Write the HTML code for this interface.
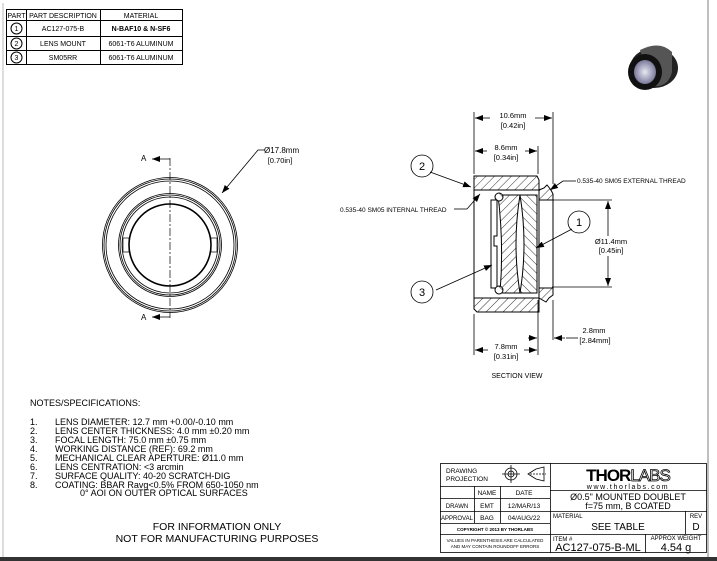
<!DOCTYPE html>
<html><head><meta charset="utf-8"><style>
html,body{margin:0;padding:0;background:#fff;}
svg{display:block;font-family:"Liberation Sans",sans-serif;}
</style></head><body>
<svg width="717" height="561" viewBox="0 0 717 561" xmlns="http://www.w3.org/2000/svg">
<defs>
<pattern id="h" width="6" height="6" patternUnits="userSpaceOnUse" patternTransform="rotate(45)">
<rect width="6" height="6" fill="#fff"/><line x1="0" y1="0" x2="0" y2="6" stroke="#000" stroke-width="0.8"/></pattern>
<pattern id="h2" width="6" height="6" patternUnits="userSpaceOnUse" patternTransform="rotate(-45)">
<rect width="6" height="6" fill="#fff"/><line x1="0" y1="0" x2="0" y2="6" stroke="#000" stroke-width="0.8"/></pattern>
<marker id="ar" markerWidth="8" markerHeight="6" refX="8" refY="3" orient="auto" markerUnits="userSpaceOnUse"><path d="M0,0 L8,3 L0,6z" fill="#000"/></marker>
<radialGradient id="lg" cx="0.5" cy="0.5" r="0.5"><stop offset="0" stop-color="#e8e8f4"/><stop offset="1" stop-color="#7a7a9a"/></radialGradient>
</defs>
<rect width="717" height="561" fill="#fff"/>
<line x1="3" y1="3" x2="3" y2="557" stroke="#bbb"/>
<line x1="708" y1="0" x2="708" y2="557" stroke="#aaa" stroke-width="1.5"/>
<rect x="0" y="557" width="717" height="4" fill="#333"/>

<!-- parts table -->
<g stroke="#000" stroke-width="1" fill="none">
<rect x="6.5" y="9.5" width="176" height="55"/>
<line x1="6" y1="20.5" x2="183" y2="20.5"/>
<line x1="6" y1="36.5" x2="183" y2="36.5"/>
<line x1="6" y1="50.5" x2="183" y2="50.5"/>
<line x1="26.5" y1="9" x2="26.5" y2="65"/>
<line x1="100.5" y1="9" x2="100.5" y2="65"/>
<circle cx="16.5" cy="28.5" r="5.5"/><circle cx="16.5" cy="43.5" r="5.5"/><circle cx="16.5" cy="57.5" r="5.5"/>
</g>
<g font-size="7" text-anchor="middle" fill="#000">
<text x="16.5" y="18">PART</text><text x="63" y="18">PART DESCRIPTION</text><text x="141" y="18">MATERIAL</text>
<text x="16.5" y="31" font-size="7">1</text><text x="16.5" y="46">2</text><text x="16.5" y="60">3</text>
<text x="63" y="31">AC127-075-B</text><text x="141" y="31" font-weight="bold">N-BAF10 &amp; N-SF6</text>
<text x="63" y="46">LENS MOUNT</text><text x="141" y="46">6061-T6 ALUMINUM</text>
<text x="63" y="60">SM05RR</text><text x="141" y="60">6061-T6 ALUMINUM</text>
</g>

<!-- 3D image -->
<g>
<ellipse cx="654" cy="68" rx="24" ry="20" fill="#222"/>
<path d="M640,50 Q660,40 672,52 L672,72 Q668,88 652,86 Z" fill="#555"/>
<ellipse cx="645" cy="72" rx="17" ry="18" fill="#111"/>
<ellipse cx="645" cy="72" rx="11" ry="12" fill="url(#lg)"/>
</g>

<!-- front view -->
<g stroke="#000" fill="none">
<circle cx="170" cy="245" r="67.5" stroke-width="0.8"/>
<circle cx="170" cy="245" r="66" stroke-width="0.8"/>
<circle cx="170" cy="245" r="64" stroke-width="0.8"/>
<circle cx="170" cy="245" r="51.5" stroke-width="0.8"/>
<circle cx="170" cy="245" r="50" stroke-width="0.8"/>
<circle cx="170" cy="245" r="48" stroke-width="0.8"/>
<circle cx="170" cy="245" r="41" stroke-width="1.6"/>
<rect x="123" y="238" width="6" height="14" stroke-width="0.7"/>
<rect x="211" y="238" width="6" height="14" stroke-width="0.7"/>
<line x1="170" y1="158" x2="170" y2="318" stroke-width="0.7" stroke-dasharray="8,2,2,2"/>
<polyline points="170,159 170,159 152,159" stroke-width="0.8" marker-end="url(#ar)"/>
<polyline points="170,317 152,317" stroke-width="0.8" marker-end="url(#ar)"/>
<polyline points="265,150 258,150 222,193" stroke-width="0.8" marker-end="url(#ar)"/>
</g>
<g font-size="8" fill="#000">
<text x="141" y="161">A</text><text x="141" y="320">A</text>
<text x="264" y="153">Ø17.8mm</text><text x="280" y="163" font-size="7.5" text-anchor="middle">[0.70in]</text>
</g>

<!-- section view -->
<g stroke="#000" stroke-width="1">
<path d="M474,176 L537,176 L539,180 L539,190 L474,190 Z" fill="url(#h)"/>
<path d="M474,298 L539,298 L539,312 L477,312 L474,309 Z" fill="url(#h)"/>
<path d="M539,190 L544,188 L547,185 L551,190 L553,194 L553,200 L539,200 Z" fill="url(#h)"/>
<path d="M539,288 L553,288 L553,295 L549,298 L546,302 L539,298 Z" fill="url(#h)"/>
<line x1="474" y1="190" x2="474" y2="298" stroke-width="1"/>
<line x1="553" y1="200" x2="553" y2="288" stroke-width="1"/>
<line x1="539" y1="200" x2="539" y2="288" stroke-width="1"/>
<path d="M498,195 L520,195 Q512,244 520,293 L500,293 Q504,244 498,195 Z" fill="url(#h)"/>
<path d="M520,195 L537,195 L537,293 L520,293 Q528,244 520,195 Z" fill="url(#h2)"/>
<path d="M491,200 L497,200 L497,236 L494,236 L494,246 L497,246 L497,288 L491,288 Z" fill="#fff"/>
<circle cx="499" cy="197" r="4" fill="url(#h2)"/>
<circle cx="499" cy="290" r="4" fill="url(#h2)"/>
</g>
<g stroke="#000" stroke-width="0.8" fill="none">
<line x1="474" y1="112" x2="474" y2="174"/><line x1="553" y1="112" x2="553" y2="184"/>
<line x1="538" y1="146" x2="538" y2="174"/>
<line x1="474" y1="314" x2="474" y2="355"/><line x1="538" y1="300" x2="538" y2="355"/><line x1="553" y1="300" x2="553" y2="340"/>
<line x1="552" y1="200" x2="612" y2="200"/><line x1="552" y1="287" x2="612" y2="287"/>
<line x1="490" y1="118" x2="475" y2="118" marker-end="url(#ar)"/><line x1="535" y1="118" x2="552" y2="118" marker-end="url(#ar)"/>
<line x1="487" y1="151" x2="475" y2="151" marker-end="url(#ar)"/><line x1="525" y1="151" x2="537" y2="151" marker-end="url(#ar)"/>
<line x1="488" y1="350" x2="475" y2="350" marker-end="url(#ar)"/><line x1="524" y1="350" x2="537" y2="350" marker-end="url(#ar)"/>
<line x1="565" y1="338" x2="554" y2="338" marker-end="url(#ar)"/><line x1="528" y1="338" x2="537" y2="338" marker-end="url(#ar)"/>
<line x1="578" y1="338" x2="566" y2="338"/>
<line x1="608" y1="236" x2="608" y2="201" marker-end="url(#ar)"/><line x1="608" y1="256" x2="608" y2="286" marker-end="url(#ar)"/>
<line x1="430" y1="172" x2="471" y2="187" marker-end="url(#ar)"/>
<line x1="436" y1="290" x2="492" y2="265" marker-end="url(#ar)"/>
<line x1="572" y1="229" x2="536" y2="248" marker-end="url(#ar)"/>
<line x1="454" y1="209" x2="467" y2="209"/><line x1="467" y1="209" x2="480" y2="194" marker-end="url(#ar)"/>
<line x1="576" y1="181" x2="563" y2="181"/><line x1="563" y1="181" x2="550" y2="190" marker-end="url(#ar)"/>
<circle cx="422" cy="166" r="11"/><circle cx="579" cy="222" r="11"/><circle cx="422" cy="292" r="11"/>
</g>
<g font-size="7.5" fill="#000" text-anchor="middle">
<text x="513" y="118">10.6mm</text><text x="513" y="128">[0.42in]</text>
<text x="506" y="150">8.6mm</text><text x="506" y="160">[0.34in]</text>
<text x="506" y="349">7.8mm</text><text x="506" y="359">[0.31in]</text>
<text x="594" y="333">2.8mm</text><text x="595" y="343">[2.84mm]</text>
<text x="611" y="244">Ø11.4mm</text><text x="611" y="253">[0.45in]</text>
<text x="517" y="378" font-size="7">SECTION VIEW</text>
<text x="422" y="170" font-size="11">2</text><text x="579" y="226" font-size="11">1</text><text x="422" y="296" font-size="11">3</text>
</g>
<g font-size="6.5" fill="#000">
<text x="340" y="212">0.535-40 SM05 INTERNAL THREAD</text>
<text x="577" y="183">0.535-40 SM05 EXTERNAL THREAD</text>
</g>

<!-- notes -->
<g font-size="9" fill="#000">
<text x="30" y="406">NOTES/SPECIFICATIONS:</text>
<text x="30" y="425">1.</text><text x="55" y="425">LENS DIAMETER: 12.7 mm +0.00/-0.10 mm</text>
<text x="30" y="434">2.</text><text x="55" y="434">LENS CENTER THICKNESS: 4.0 mm ±0.20 mm</text>
<text x="30" y="443">3.</text><text x="55" y="443">FOCAL LENGTH: 75.0 mm  ±0.75 mm</text>
<text x="30" y="452">4.</text><text x="55" y="452">WORKING DISTANCE (REF): 69.2 mm</text>
<text x="30" y="461">5.</text><text x="55" y="461">MECHANICAL CLEAR APERTURE: Ø11.0 mm</text>
<text x="30" y="470">6.</text><text x="55" y="470">LENS CENTRATION: &lt;3 arcmin</text>
<text x="30" y="479">7.</text><text x="55" y="479">SURFACE QUALITY: 40-20 SCRATCH-DIG</text>
<text x="30" y="488">8.</text><text x="55" y="488">COATING: BBAR Ravg&lt;0.5% FROM  650-1050 nm</text>
<text x="80" y="496">0° AOI ON OUTER OPTICAL SURFACES</text>
</g>
<g font-size="10.5" fill="#000" text-anchor="middle">
<text x="217" y="530">FOR INFORMATION ONLY</text>
<text x="217" y="542">NOT FOR MANUFACTURING PURPOSES</text>
</g>

<!-- title block -->
<g stroke="#000" stroke-width="0.8" fill="none">
<rect x="440.5" y="463.5" width="266" height="89"/>
<line x1="550.5" y1="463" x2="550.5" y2="553"/>
<line x1="440" y1="486.5" x2="550" y2="486.5"/>
<line x1="440" y1="498.5" x2="550" y2="498.5"/>
<line x1="440" y1="511.5" x2="707" y2="511.5"/>
<line x1="440" y1="523.5" x2="550" y2="523.5"/>
<line x1="440" y1="534.5" x2="707" y2="534.5"/>
<line x1="550" y1="490.5" x2="707" y2="490.5"/>
<line x1="474.5" y1="486" x2="474.5" y2="523"/>
<line x1="500.5" y1="486" x2="500.5" y2="523"/>
<line x1="685.5" y1="511" x2="685.5" y2="534"/>
<line x1="645.5" y1="534" x2="645.5" y2="553"/>
<circle cx="511" cy="474" r="6"/><circle cx="511" cy="474" r="3"/>
<line x1="502" y1="474" x2="520" y2="474"/><line x1="511" y1="465" x2="511" y2="483"/>
<path d="M528,474 L536,469 L544,467 L544,481 L536,479 Z"/><line x1="530" y1="474" x2="546" y2="474" stroke-dasharray="2,1"/>
</g>
<g fill="#000" font-size="6.5">
<text x="446" y="473">DRAWING</text><text x="446" y="481">PROJECTION</text>
<text x="487" y="495" text-anchor="middle">NAME</text><text x="524" y="495" text-anchor="middle">DATE</text>
<text x="457" y="508" text-anchor="middle" font-size="6">DRAWN</text><text x="487" y="508" text-anchor="middle">EMT</text><text x="524" y="508" text-anchor="middle">12/MAR/13</text>
<text x="457" y="520" text-anchor="middle" font-size="6">APPROVAL</text><text x="487" y="520" text-anchor="middle">BAG</text><text x="524" y="520" text-anchor="middle">04/AUG/22</text>
<text x="495" y="531" text-anchor="middle" font-size="4.5" font-weight="bold">COPYRIGHT © 2013 BY THORLABS</text>
<text x="495" y="542" text-anchor="middle" font-size="4.5">VALUES IN PARENTHESIS ARE CALCULATED</text>
<text x="495" y="548" text-anchor="middle" font-size="4.5">AND MAY CONTAIN ROUNDOFF ERRORS</text>
<text x="628" y="481" text-anchor="middle" font-size="17" font-weight="bold" letter-spacing="-1">THOR<tspan font-weight="normal" fill="#fff" stroke="#000" stroke-width="0.8">LABS</tspan></text>
<text x="628" y="489" text-anchor="middle" font-size="7" letter-spacing="1.6">www.thorlabs.com</text>
<text x="628" y="500" text-anchor="middle" font-size="9">Ø0.5" MOUNTED DOUBLET</text>
<text x="628" y="509" text-anchor="middle" font-size="9">f=75 mm, B COATED</text>
<text x="553" y="518" font-size="6">MATERIAL</text>
<text x="618" y="530" text-anchor="middle" font-size="10">SEE TABLE</text>
<text x="696" y="518" text-anchor="middle" font-size="6">REV</text>
<text x="696" y="530" text-anchor="middle" font-size="10">D</text>
<text x="553" y="541" font-size="6">ITEM #</text>
<text x="598" y="551" text-anchor="middle" font-size="11">AC127-075-B-ML</text>
<text x="676" y="540" text-anchor="middle" font-size="6">APPROX WEIGHT</text>
<text x="676" y="551" text-anchor="middle" font-size="11">4.54 g</text>
</g>
</svg>
</body></html>
